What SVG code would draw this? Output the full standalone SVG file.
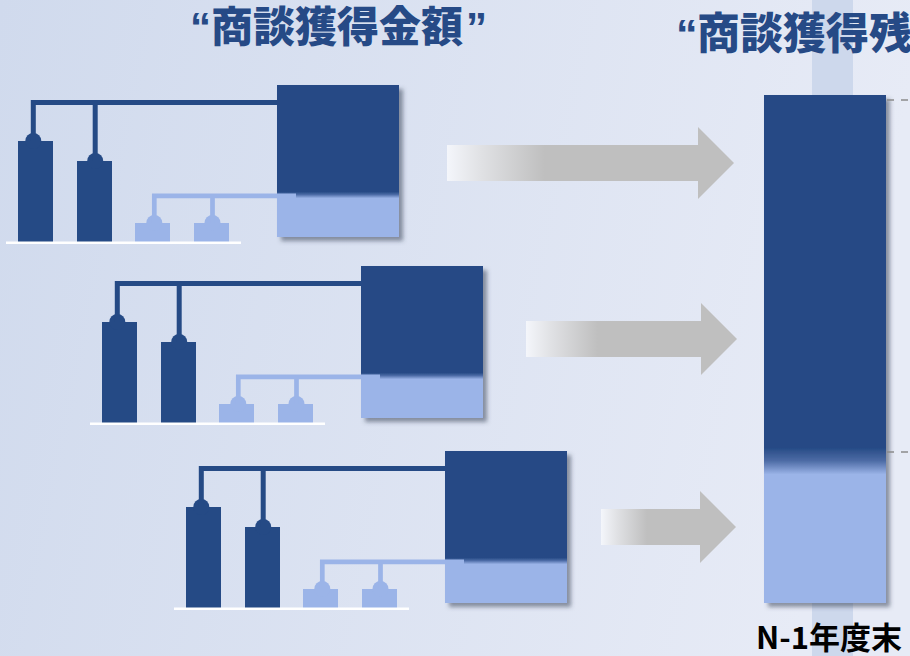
<svg xmlns="http://www.w3.org/2000/svg" width="910" height="656" viewBox="0 0 910 656">
  <defs>
    <linearGradient id="bg" x1="0" y1="0" x2="1" y2="0.15">
      <stop offset="0" stop-color="#d0daed"/>
      <stop offset="1" stop-color="#e7ebf6"/>
    </linearGradient>
    <linearGradient id="boxFill" x1="0" y1="0" x2="0" y2="1">
      <stop offset="0" stop-color="#254a85"/>
      <stop offset="0.702" stop-color="#254a85"/>
      <stop offset="0.72" stop-color="#4a69a4"/>
      <stop offset="0.745" stop-color="#9bb4e8"/>
      <stop offset="1" stop-color="#9bb4e8"/>
    </linearGradient>
    <linearGradient id="barFill" x1="0" y1="0" x2="0" y2="1">
      <stop offset="0" stop-color="#254a85"/>
      <stop offset="0.694" stop-color="#254a85"/>
      <stop offset="0.72" stop-color="#4d6ba5"/>
      <stop offset="0.747" stop-color="#9bb4e8"/>
      <stop offset="1" stop-color="#9bb4e8"/>
    </linearGradient>
    <linearGradient id="arrowFill" x1="0" y1="0" x2="1" y2="0">
      <stop offset="0" stop-color="#f4f6fb"/>
      <stop offset="0.12" stop-color="#e0e1e4"/>
      <stop offset="0.34" stop-color="#bfbfbf"/>
      <stop offset="1" stop-color="#bfbfbf"/>
    </linearGradient>
    <filter id="shadow" x="-10%" y="-10%" width="125%" height="125%">
      <feDropShadow dx="4" dy="4" stdDeviation="2" flood-color="#3a4258" flood-opacity="0.55"/>
    </filter>
    <style>
      .dark { fill: #254a85; }
      .light { fill: #9bb4e8; }
      .base { fill: #ffffff; }
      .darkLine { fill: none; stroke: #254a85; stroke-width: 5; }
      .lightLine { fill: none; stroke: #9bb4e8; stroke-width: 4.7; }
      .arrow { fill: url(#arrowFill); }
      .tick { stroke: #8c8c8c; stroke-width: 1.5; stroke-dasharray: 7 7; }
      .title { font-family: "Noto Sans CJK JP", "Noto Sans", sans-serif; font-weight: 900; fill: #264a86; }
      .quote { font-family: "Liberation Sans", "Noto Sans", sans-serif; font-weight: bold; }
      .label { font-family: "Noto Sans CJK JP", "Noto Sans", sans-serif; font-weight: bold; fill: #000000; font-size: 31px; }
    </style>
  </defs>

  <rect x="0" y="0" width="910" height="656" fill="url(#bg)"/>
  <rect x="812" y="0" width="41" height="656" fill="#cdd8ec"/>

  <!-- node groups -->
  <g id="group1">
    <rect class="dark" x="18" y="141" width="35" height="101"/>
    <circle class="dark" cx="33.3" cy="141" r="8"/>
    <rect class="dark" x="77" y="161" width="35" height="81"/>
    <circle class="dark" cx="95.2" cy="161" r="8"/>
    <rect class="light" x="135" y="223" width="35" height="19"/>
    <circle class="light" cx="154.3" cy="223" r="8"/>
    <rect class="light" x="194" y="223" width="35" height="19"/>
    <circle class="light" cx="212.5" cy="223" r="8"/>
    <rect class="base" x="6" y="241.5" width="235" height="2.5"/>
    <rect x="277" y="85" width="122" height="152" fill="url(#boxFill)" filter="url(#shadow)"/>
  </g>
  <g id="group2" transform="translate(84,181)">
    <rect class="dark" x="18" y="141" width="35" height="101"/>
    <circle class="dark" cx="33.3" cy="141" r="8"/>
    <rect class="dark" x="77" y="161" width="35" height="81"/>
    <circle class="dark" cx="95.2" cy="161" r="8"/>
    <rect class="light" x="135" y="223" width="35" height="19"/>
    <circle class="light" cx="154.3" cy="223" r="8"/>
    <rect class="light" x="194" y="223" width="35" height="19"/>
    <circle class="light" cx="212.5" cy="223" r="8"/>
    <rect class="base" x="6" y="241.5" width="235" height="2.5"/>
    <rect x="277" y="85" width="122" height="152" fill="url(#boxFill)" filter="url(#shadow)"/>
  </g>
  <g id="group3" transform="translate(168,366)">
    <rect class="dark" x="18" y="141" width="35" height="101"/>
    <circle class="dark" cx="33.3" cy="141" r="8"/>
    <rect class="dark" x="77" y="161" width="35" height="81"/>
    <circle class="dark" cx="95.2" cy="161" r="8"/>
    <rect class="light" x="135" y="223" width="35" height="19"/>
    <circle class="light" cx="154.3" cy="223" r="8"/>
    <rect class="light" x="194" y="223" width="35" height="19"/>
    <circle class="light" cx="212.5" cy="223" r="8"/>
    <rect class="base" x="6" y="241.5" width="235" height="2.5"/>
    <rect x="277" y="85" width="122" height="152" fill="url(#boxFill)" filter="url(#shadow)"/>
  </g>
  <g id="total">
    <rect x="764" y="95" width="122" height="508" fill="url(#barFill)" filter="url(#shadow)"/>
    <line class="tick" x1="887" y1="100" x2="910" y2="100"/>
    <line class="tick" x1="887" y1="452" x2="910" y2="452"/>
  </g>

  <!-- connectors -->
  <g id="connectors">
    <g>
      <path class="darkLine" d="M33.3 141 V102.5 H277 M95.2 102.5 V161"/>
      <path class="lightLine" d="M154.3 223 V195.8 H296 M212.5 195.8 V223"/>
    </g>
    <g transform="translate(84,181)">
      <path class="darkLine" d="M33.3 141 V102.5 H277 M95.2 102.5 V161"/>
      <path class="lightLine" d="M154.3 223 V195.8 H296 M212.5 195.8 V223"/>
    </g>
    <g transform="translate(168,366)">
      <path class="darkLine" d="M33.3 141 V102.5 H277 M95.2 102.5 V161"/>
      <path class="lightLine" d="M154.3 223 V195.8 H296 M212.5 195.8 V223"/>
    </g>
    <path class="arrow" d="M447 145 H698 V127 L734 163 L698 199 V181 H447 Z"/>
    <path class="arrow" d="M526 321 H701 V303 L737 339 L701 375 V357 H526 Z"/>
    <path class="arrow" d="M601 509 H700 V491 L736 527 L700 563 V545 H601 Z"/>
  </g>

  <!-- texts -->
  <text class="title" y="42" font-size="42"><tspan class="quote" x="190">“</tspan><tspan x="211">商談獲得金額</tspan><tspan class="quote" x="466">”</tspan></text>
  <text class="title" y="49" font-size="43"><tspan class="quote" x="676">“</tspan><tspan x="697">商談獲得残</tspan></text>
  <text class="label" x="756" y="649">N-1年度末</text>
</svg>
